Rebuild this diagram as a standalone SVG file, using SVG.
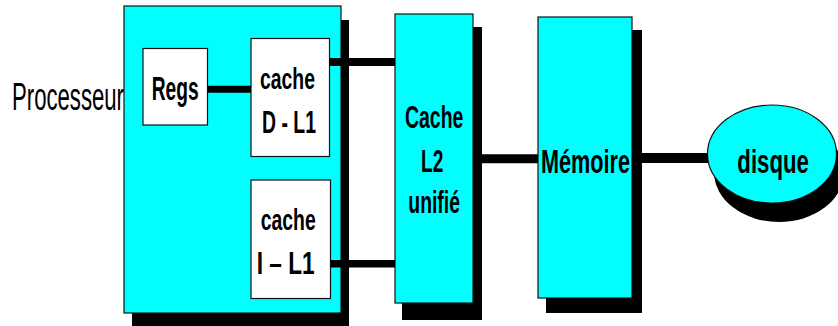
<svg xmlns="http://www.w3.org/2000/svg" width="838" height="326" viewBox="0 0 838 326">
<style>
.box{fill:#00FFFF;stroke:#111;stroke-width:1.2}
.wbox{fill:#FFFFFF;stroke:#111;stroke-width:1.2}
.sh{fill:#000}
.t{font-family:"Liberation Sans",Arial,sans-serif;font-weight:bold;fill:#000}
.n{font-family:"Liberation Sans",Arial,sans-serif;fill:#000}
.c{stroke:#000;fill:none}
</style>
<rect width="838" height="326" fill="#FFFFFF"/>
<g id="processeur">
  <rect class="sh" x="132" y="20" width="217" height="306"/>
  <rect class="box" x="124" y="6" width="217" height="307"/>
  <text class="n" x="12" y="110" font-size="38" textLength="112" lengthAdjust="spacingAndGlyphs">Processeur</text>
</g>
<g id="regs">
  <rect class="wbox" x="143" y="48.5" width="64.5" height="76.5"/>
  <text class="t" x="151.7" y="100" font-size="33" textLength="47" lengthAdjust="spacingAndGlyphs">Regs</text>
</g>
<g id="cacheD">
  <rect class="wbox" x="251" y="38.5" width="78.5" height="118"/>
  <text class="t" x="260" y="89" font-size="29" textLength="55" lengthAdjust="spacingAndGlyphs">cache</text>
  <text class="t" x="262" y="132.7" font-size="31" textLength="54" lengthAdjust="spacingAndGlyphs">D - L1</text>
</g>
<g id="cacheI">
  <rect class="wbox" x="251" y="180" width="79.5" height="118.5"/>
  <text class="t" x="260.7" y="230" font-size="29" textLength="55" lengthAdjust="spacingAndGlyphs">cache</text>
  <text class="t" x="256.7" y="274.3" font-size="31" textLength="58" lengthAdjust="spacingAndGlyphs">I – L1</text>
</g>
<g id="cacheL2">
  <rect class="sh" x="402" y="27" width="80" height="293"/>
  <rect class="box" x="395" y="14" width="78" height="289"/>
  <text class="t" x="405" y="128.3" font-size="32" textLength="58.3" lengthAdjust="spacingAndGlyphs">Cache</text>
  <text class="t" x="421" y="171.7" font-size="32" textLength="22.3" lengthAdjust="spacingAndGlyphs">L2</text>
  <text class="t" x="408.3" y="213.3" font-size="32" textLength="51.7" lengthAdjust="spacingAndGlyphs">unifié</text>
</g>
<g id="memoire">
  <rect class="sh" x="546" y="30" width="96" height="283"/>
  <rect class="box" x="538" y="17" width="94" height="281"/>
  <text class="t" x="541" y="173.3" font-size="34" textLength="89" lengthAdjust="spacingAndGlyphs">Mémoire</text>
</g>
<g id="disque">
  <ellipse class="sh" cx="779" cy="172" rx="65" ry="50"/>
  <ellipse class="box" cx="772" cy="154" rx="64.5" ry="49"/>
  <text class="t" x="737.3" y="173.3" font-size="34" textLength="71.7" lengthAdjust="spacingAndGlyphs">disque</text>
</g>
<g id="connectors">
  <line class="c" x1="207.5" y1="89.3" x2="251" y2="89.3" stroke-width="7"/>
  <line class="c" x1="329.5" y1="62" x2="395" y2="62" stroke-width="8"/>
  <line class="c" x1="330.5" y1="263.8" x2="395" y2="263.8" stroke-width="7.5"/>
  <line class="c" x1="473" y1="158.7" x2="538" y2="158.7" stroke-width="9"/>
  <line class="c" x1="632" y1="158" x2="708" y2="158" stroke-width="10"/>
</g>
</svg>
